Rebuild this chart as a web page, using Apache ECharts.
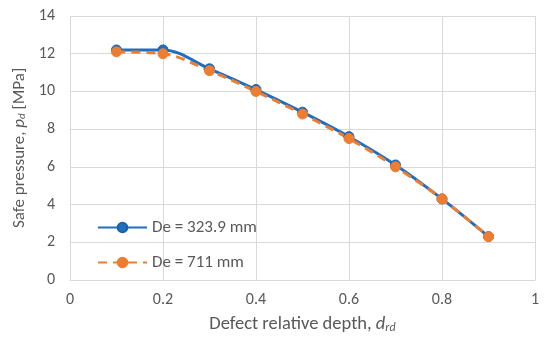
<!DOCTYPE html>
<html><head><meta charset="utf-8">
<script src="https://cdn.jsdelivr.net/npm/echarts@6/dist/echarts.min.js"></script>
<style>html,body{margin:0;padding:0;background:#fff}#c{width:550px;height:339px}</style>
</head><body><div id="c"></div>
<script>
const depth = [0.1, 0.2, 0.3, 0.4, 0.5, 0.6, 0.7, 0.8, 0.9];
const pressure323 = [12.2, 12.2, 11.2, 10.1, 8.9, 7.6, 6.1, 4.3, 2.3];
const pressure711 = [12.1, 12.0, 11.1, 10.0, 8.8, 7.5, 6.0, 4.3, 2.3];
const seriesNames = ['De = 323.9 mm', 'De = 711 mm'];
const xTicks = [0, 0.2, 0.4, 0.6, 0.8, 1];
const yTicks = [0, 2, 4, 6, 8, 10, 12, 14];

const blue = '#1f6fc1', orange = '#ed7d31', grey = '#595959', gridC = '#d9d9d9';
const font = 'Calibri, Carlito, "Open Sans", "Liberation Sans", sans-serif';
const chart = echarts.init(document.getElementById('c'), null, {renderer: 'canvas'});
const pair = (xs, ys) => xs.map((x, i) => [x, ys[i]]);
const mkRich = (fs) => ({
  n: {color: grey, fontSize: fs, fontFamily: font},
  i: {color: grey, fontSize: fs, fontStyle: 'italic', fontFamily: font},
  s: {color: grey, fontSize: Math.round(fs * 0.66), fontStyle: 'italic', fontFamily: font, verticalAlign: 'bottom', padding: [Math.round(fs * 0.38), 0, 0, 0]}
});
chart.setOption({
  animation: false,
  textStyle: {fontFamily: font},
  grid: {left: 70, right: 15, top: 16, bottom: 57},
  legend: {
    orient: 'vertical', left: 92, top: 214, itemGap: 18,
    itemWidth: 49, itemHeight: 12,
    textStyle: {color: grey, fontSize: 17, fontFamily: font},
    data: seriesNames
  },
  xAxis: {
    type: 'value', min: xTicks[0], max: xTicks[xTicks.length - 1], interval: 0.2,
    axisLine: {show: true, lineStyle: {color: gridC, width: 1}},
    axisTick: {show: false},
    splitLine: {show: true, lineStyle: {color: gridC, width: 1}},
    axisLabel: {color: grey, fontSize: 16, margin: 12, formatter: v => String(+v.toFixed(1))},
    name: '{n|Defect relative depth, }{i|d}{s|rd}',
    nameLocation: 'middle', nameGap: 35,
    nameTextStyle: {rich: mkRich(18.5)}
  },
  yAxis: {
    type: 'value', min: yTicks[0], max: yTicks[yTicks.length - 1], interval: 2,
    axisLine: {show: false},
    axisTick: {show: false},
    splitLine: {show: true, lineStyle: {color: gridC, width: 1}},
    axisLabel: {color: grey, fontSize: 16, margin: 15},
    name: '{n|Safe pressure, }{i|p}{s|d}{n| [MPa]}',
    nameLocation: 'middle', nameGap: 32, nameRotate: 90,
    nameTextStyle: {rich: mkRich(17)}
  },
  series: [
    {
      name: seriesNames[0], type: 'line', smooth: 0.35,
      data: pair(depth, pressure323),
      symbol: 'circle', symbolSize: 10,
      lineStyle: {color: blue, width: 3},
      itemStyle: {color: blue, borderColor: '#1b5fa6', borderWidth: 1}
    },
    {
      name: seriesNames[1], type: 'line', smooth: 0.35,
      data: pair(depth, pressure711),
      symbol: 'circle', symbolSize: 10,
      lineStyle: {color: orange, width: 3, type: [9, 6]},
      itemStyle: {color: orange, borderColor: orange, borderWidth: 1}
    }
  ]
});
</script></body></html>
